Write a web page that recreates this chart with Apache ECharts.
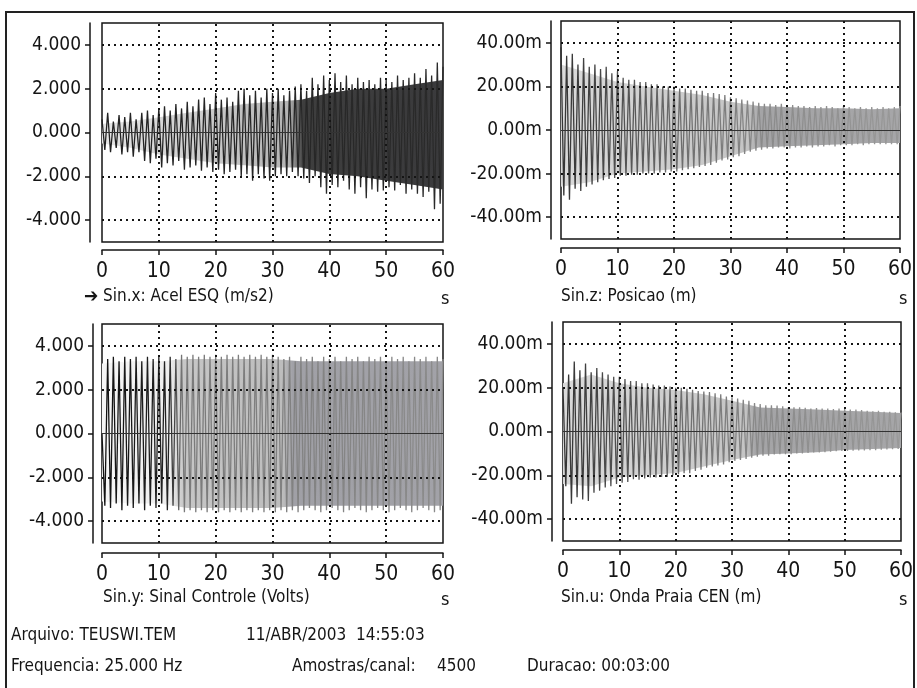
<!DOCTYPE html>
<html>
<head>
<meta charset="utf-8">
<title>TEUSWI.TEM</title>
<script src="https://cdn.jsdelivr.net/npm/echarts@6/dist/echarts.min.js"></script>
<style>
  html, body { margin: 0; padding: 0; background: #fff; }
  #main { width: 917px; height: 688px; }
</style>
</head>
<body>
<div id="main"></div>
<script>
// sample clock of the peak arrays (s): hi at 0, 1, 2 ... lo at 0.5, 1.5 ...
const PEAK_STEP = 0.5
const timeTicks = [0, 10, 20, 30, 40, 50, 60]
const timeGrid = [10, 20, 30, 40, 50]
const bandTimes = [0, 5, 10, 15, 20, 25, 30, 35, 40, 45, 50, 55, 60]
const voltTicks = [-4, -2, 0, 2, 4]
const milliTicks = [-40, -20, 0, 20, 40]

// Sin.x: Acel ESQ (m/s2)
const accelHi = [0.6,0.9,0.5,0.8,0.7,0.9,0.6,0.9,1.0,0.8,
  1.1,1.2,1.0,1.3,1.1,1.4,1.2,1.5,1.6,1.3,
  1.8,1.5,1.6,1.4,1.9,2.0,1.7,1.9,1.6,2.0,
  1.8,2.0,1.7,1.9,2.1,2.2,1.9,2.5,2.2,2.6,
  2.4,2.7,2.3,2.6,2.2,2.5,2.3,2.4,2.2,2.5,
  2.4,2.3,2.6,2.4,2.5,2.7,2.5,2.9,2.6,3.2,3.0]
const accelLo = [-0.8,-0.9,-0.7,-1.0,-0.9,-1.1,-0.9,-1.3,-1.4,-1.2,
  -1.6,-1.4,-1.5,-1.3,-1.7,-1.6,-1.5,-1.75,-1.6,-1.8,
  -1.7,-1.9,-1.8,-1.7,-2.0,-1.9,-2.2,-1.9,-2.1,-2.2,
  -2.0,-1.9,-2.0,-1.8,-2.0,-2.1,-2.3,-2.0,-2.5,-2.8,
  -2.4,-2.5,-2.2,-2.6,-2.8,-2.5,-3.0,-2.6,-2.7,-2.65,
  -2.5,-2.65,-2.4,-2.8,-2.6,-2.8,-2.95,-2.7,-3.5,-3.25]
const accelCoreHi = [0.4,0.5,0.7,0.9,1.1,1.3,1.4,1.5,1.8,2.0,2.0,2.2,2.4]
const accelCoreLo = [-0.5,-0.7,-1.0,-1.2,-1.4,-1.5,-1.6,-1.6,-1.9,-2.0,-2.2,-2.4,-2.6]

// Sin.z: Posicao (m), in milli
const posHi = [38,34,35,30,33,29,30,28,29,26,
  27,24,23,23,22,22,21,21,20,20,
  20,19,19,18.5,18,18,17,17,16.5,16,
  15,14.5,14,13.5,13,12.5,12,12,11.5,12,
  11,11.5,11,11,10.5,11,10.5,11,10.5,10,
  11,10.5,10,10.5,10,10.5,10,10.5,10,10.5,11]
const posLo = [-30,-32,-27,-28,-26,-25,-24,-23,-22.5,-22,
  -21,-21,-20.5,-20.5,-20,-20,-20,-19.5,-19.5,-19,
  -19,-18.5,-18,-17.5,-17,-16.5,-16,-15,-14,-13.5,
  -12.5,-12,-11,-10,-9.5,-9,-8.5,-8.5,-8,-8,
  -8.5,-8,-8,-7.5,-8,-7.5,-7.5,-7,-7.5,-7,
  -7,-7,-6.5,-7,-6.5,-6.5,-6.5,-6.5,-6.5,-6.5]
const posCoreHi = [30,26,22,20,18,16,13,11,10.5,10,10,9.5,10]
const posCoreLo = [-26,-24,-20,-19,-18,-16,-12,-8,-7.5,-7,-6.5,-6,-6]

// Sin.y: Sinal Controle (Volts)
const ctrlHi = [0,3.4,3.5,3.3,3.5,3.4,3.5,3.3,3.5,3.4,
  3.5,3.3,3.5,3.4,3.6,3.5,3.6,3.5,3.6,3.5,
  3.6,3.5,3.6,3.5,3.6,3.5,3.6,3.5,3.6,3.5,
  3.6,3.5,3.4,3.5,3.3,3.5,3.4,3.5,3.3,3.5,
  3.4,3.5,3.3,3.5,3.4,3.5,3.3,3.5,3.4,3.5,
  3.3,3.5,3.4,3.5,3.3,3.5,3.4,3.5,3.3,3.5,3.4]
const ctrlLo = [-3.3,-3.4,-3.2,-3.5,-3.3,-3.4,-3.2,-3.5,-3.3,-3.4,
  -3.2,-3.5,-3.3,-3.5,-3.6,-3.5,-3.6,-3.5,-3.6,-3.5,
  -3.6,-3.5,-3.6,-3.5,-3.6,-3.5,-3.6,-3.5,-3.6,-3.5,
  -3.6,-3.5,-3.6,-3.5,-3.6,-3.5,-3.4,-3.5,-3.6,-3.5,
  -3.4,-3.5,-3.6,-3.5,-3.4,-3.5,-3.6,-3.5,-3.4,-3.5,
  -3.6,-3.5,-3.4,-3.5,-3.6,-3.5,-3.4,-3.5,-3.6,-3.5]
const ctrlCoreHi = [3.2,3.3,3.3,3.4,3.4,3.4,3.4,3.3,3.3,3.3,3.3,3.3,3.3]
const ctrlCoreLo = [-3.1,-3.2,-3.2,-3.4,-3.4,-3.4,-3.4,-3.3,-3.3,-3.3,-3.3,-3.3,-3.3]

// Sin.u: Onda Praia CEN (m), in milli
const waveHi = [20,26,32,28,31,27,29,27,26,25,
  25,24,23,23,22,22,21.5,21,21,20.5,
  20,20,19.5,19,18.5,18.3,18,17.5,17,16,
  15.6,15,14.5,14,13,12.5,12,12,11.8,11.5,
  11,11,11,10.8,10.5,10.7,10.5,10.5,10.2,10.5,
  10.2,10,10,9.8,9.5,9.2,9.5,9,9,8.8,8.7]
const waveLo = [-25,-33,-30,-31,-31.7,-28,-27,-25.6,-25,-24,
  -23.4,-23,-21.8,-22,-21.5,-21,-21,-20.8,-20.8,-20,
  -19.5,-19,-19,-18,-17.5,-16.5,-16,-15.5,-15,-14,
  -13.4,-13,-12.5,-12,-11.5,-11,-11,-10.5,-10.4,-10.4,
  -10.4,-10,-10,-9.8,-9.6,-9.6,-9.4,-9.2,-9,-8.9,
  -8.9,-8.8,-8.7,-8.6,-8.5,-8.5,-8.3,-8.2,-8.1,-8]
const waveCoreHi = [22,26,22,20,19,17,14,11,10.5,10,9.5,9,8.5]
const waveCoreLo = [-24,-25,-21,-20,-19,-16,-13,-10.5,-10,-9.5,-8.5,-8,-7.5]

const FONT = '"DejaVu Sans Condensed", "Liberation Sans Narrow", sans-serif'
const INK = '#151515'

function hgrad(stops) {
  return { type: 'linear', x: 0, y: 0, x2: 1, y2: 0,
    colorStops: stops.map(s => ({ offset: s[0], color: s[1] })) }
}

// merge hi/lo peaks in sample order
function peaks(hi, lo) {
  const pts = []
  for (let i = 0; i < hi.length + lo.length; i++) {
    pts.push([i * PEAK_STEP, i % 2 === 0 ? hi[i / 2] : lo[(i - 1) / 2]])
  }
  return pts
}

const volts = v => v.toFixed(3)
const millis = v => v.toFixed(2) + 'm'

const panels = [
  { grid: { left: 102, top: 23, width: 341, height: 219 }, xOff: 8, yOff: 12, range: 5,
    ticks: voltTicks, fmt: volts, hi: accelHi, lo: accelLo, coreHi: accelCoreHi, coreLo: accelCoreLo,
    line: [[0, '#222'], [1, '#2a2a2a']],
    band: [[0, '#e6e6e6'], [0.55, '#b4b4b4'], [0.59, '#3e3e3e'], [1, '#3a3a3c']] },
  { grid: { left: 561, top: 21, width: 339, height: 218 }, xOff: 9, yOff: 10, range: 50,
    ticks: milliTicks, fmt: millis, hi: posHi, lo: posLo, coreHi: posCoreHi, coreLo: posCoreLo,
    line: [[0, '#333'], [0.3, '#666'], [0.58, '#8a8a8a'], [1, '#999']],
    band: [[0, '#dadada'], [0.55, '#c4c4c4'], [0.59, '#a4a4a6'], [1, '#a6a6a8']] },
  { grid: { left: 102, top: 324, width: 341, height: 219 }, xOff: 10, yOff: 9, range: 5,
    ticks: voltTicks, fmt: volts, hi: ctrlHi, lo: ctrlLo, coreHi: ctrlCoreHi, coreLo: ctrlCoreLo,
    line: [[0, '#111'], [0.2, '#222'], [0.24, '#7a7a7a'], [1, '#8c8c8c']],
    band: [[0, '#f6f6f6'], [0.2, '#eeeeee'], [0.24, '#c6c6c6'], [0.53, '#bdbdbd'], [0.56, '#a0a0a6'], [1, '#a2a2a8']] },
  { grid: { left: 563, top: 322, width: 338, height: 219 }, xOff: 9, yOff: 11, range: 50,
    ticks: milliTicks, fmt: millis, hi: waveHi, lo: waveLo, coreHi: waveCoreHi, coreLo: waveCoreLo,
    line: [[0, '#333'], [0.3, '#666'], [0.57, '#8a8a8a'], [1, '#999']],
    band: [[0, '#dadada'], [0.54, '#c4c4c4'], [0.57, '#a4a4a6'], [1, '#a6a6a8']] }
]

const grids = [], xAxes = [], yAxes = [], series = []

panels.forEach((p, i) => {
  grids.push(Object.assign({ show: true, borderColor: INK, borderWidth: 1.5, backgroundColor: 'transparent' }, p.grid))
  xAxes.push({
    type: 'value', gridIndex: i, min: 0, max: 60, interval: 10, offset: p.xOff,
    axisLine: { show: true, onZero: false, lineStyle: { color: INK, width: 1.5 } },
    axisTick: { show: true, length: 5, lineStyle: { color: INK, width: 1.5 } },
    axisLabel: { margin: 11, fontSize: 21, fontFamily: FONT, color: INK },
    splitLine: { show: false }
  })
  yAxes.push({
    type: 'value', gridIndex: i, min: -p.range, max: p.range, offset: p.yOff,
    axisLine: { show: true, onZero: false, lineStyle: { color: INK, width: 1.5 } },
    axisTick: { show: true, length: 5, customValues: p.ticks, lineStyle: { color: INK, width: 1.5 } },
    axisLabel: { customValues: p.ticks, formatter: p.fmt, margin: 9, fontSize: 19, fontFamily: FONT, color: INK },
    splitLine: { show: false }
  })
  // envelope band: one polygon through the library's coords
  series.push({
    type: 'custom', xAxisIndex: i, yAxisIndex: i, silent: true, z: 1, clip: true,
    data: bandTimes.map((t, k) => [t, p.coreLo[k], p.coreHi[k]]),
    encode: { x: 0, y: [1, 2] },
    renderItem: (params, api) => {
      if (params.dataIndex !== 0) return null
      const pts = []
      bandTimes.forEach((t, k) => pts.push(api.coord([t, p.coreHi[k]])))
      for (let k = bandTimes.length - 1; k >= 0; k--) pts.push(api.coord([bandTimes[k], p.coreLo[k]]))
      const x0 = api.coord([0, 0])[0], x1 = api.coord([60, 0])[0]
      return {
        type: 'polygon', shape: { points: pts },
        style: { fill: { type: 'linear', x: x0, y: 0, x2: x1, y2: 0, global: true,
          colorStops: p.band.map(s => ({ offset: s[0], color: s[1] })) }, stroke: null }
      }
    }
  })
  series.push({
    type: 'line', xAxisIndex: i, yAxisIndex: i,
    data: peaks(p.hi, p.lo),
    symbol: 'none', silent: true, z: 2,
    lineStyle: { color: hgrad(p.line), width: 1.3 },
    markLine: {
      silent: true, symbol: 'none', label: { show: false }, animation: false,
      lineStyle: { type: [2, 4], color: INK, width: 2 },
      data: [
        ...p.ticks.filter(v => v !== 0).map(v => ({ yAxis: v })),
        ...timeGrid.map(v => ({ xAxis: v })),
        { yAxis: 0, lineStyle: { type: 'solid', width: 1, color: '#333' } }
      ]
    }
  })
})

const txt = (x, y, text, size) => ({
  type: 'text', x, y, silent: true,
  style: { text, font: (size || 17) + 'px ' + FONT, fill: INK, verticalAlign: 'middle' }
})

const chart = echarts.init(document.getElementById('main'))
chart.setOption({
  animation: false,
  backgroundColor: '#fff',
  grid: grids, xAxis: xAxes, yAxis: yAxes, series,
  graphic: [
    { type: 'polyline', silent: true, shape: { points: [[6, 688], [6, 12], [914, 12], [914, 688]] },
      style: { stroke: '#222', lineWidth: 2, fill: null } },
    txt(84, 297, '➔', 19),
    txt(103, 297, 'Sin.x: Acel ESQ (m/s2)'),
    txt(441, 299, 's', 18),
    txt(561, 297, 'Sin.z: Posicao (m)'),
    txt(899, 299, 's', 18),
    txt(103, 598, 'Sin.y: Sinal Controle (Volts)'),
    txt(441, 600, 's', 18),
    txt(561, 598, 'Sin.u: Onda Praia CEN (m)'),
    txt(899, 600, 's', 18),
    txt(11, 636, 'Arquivo: TEUSWI.TEM'),
    txt(246, 636, '11/ABR/2003  14:55:03'),
    txt(11, 667, 'Frequencia: 25.000 Hz'),
    txt(292, 667, 'Amostras/canal:'),
    txt(437, 667, '4500'),
    txt(527, 667, 'Duracao: 00:03:00')
  ]
})
</script>
</body>
</html>
